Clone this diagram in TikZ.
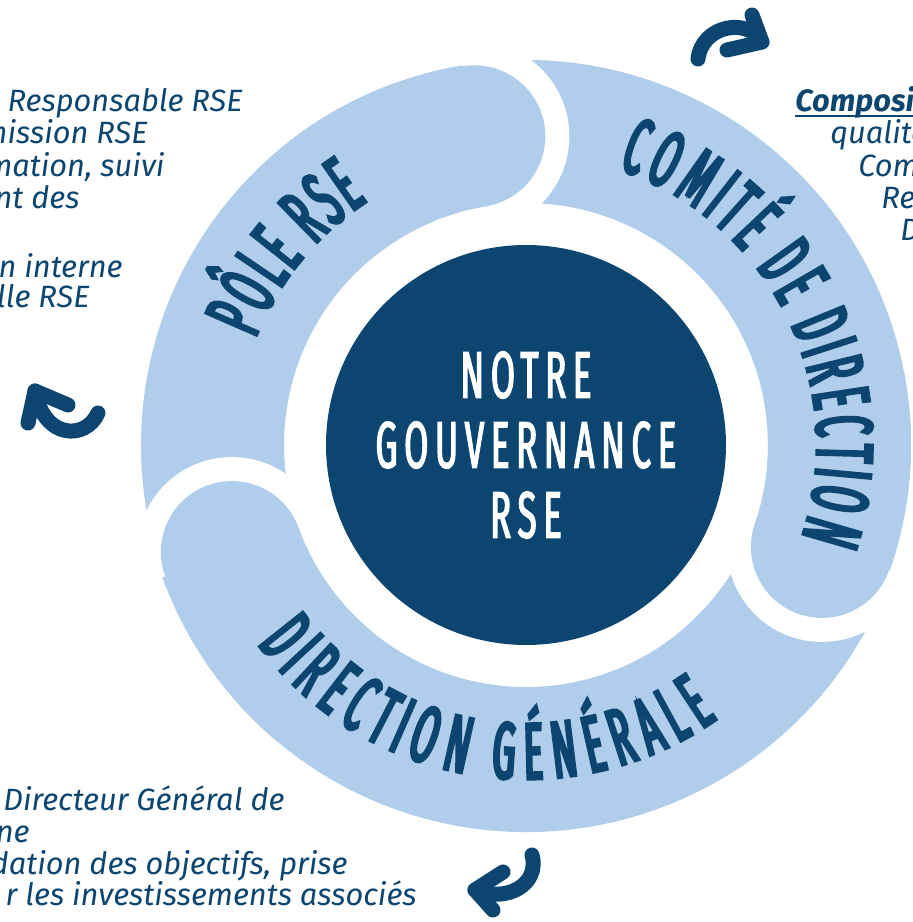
\documentclass[tikz,border=0pt]{standalone}
\usepackage{fontspec}
\setmainfont{Fira Sans}
\newfontfamily\ringfont[FakeStretch=0.45,FakeBold=4]{Fira Sans}
\newfontfamily\hubfont[FakeStretch=0.53,FakeBold=2,LetterSpace=10]{Fira Sans}
\usepackage{xcolor}
\definecolor{navy}{HTML}{0B4570}
\definecolor{ringblue}{HTML}{B0CEEB}
\usepackage{tikz}
\usetikzlibrary{decorations.text}
\newcommand{\ringstyle}{\ringfont\fontsize{40}{40}\selectfont}
\tikzstyle{segment} = [fill=ringblue]
\tikzstyle{gap} = [fill=white]
\tikzstyle{hub} = [circle, fill=navy, minimum size=200pt, inner sep=0pt,
    text=white, align=center, font=\hubfont\fontsize{33}{35}\selectfont]
\tikzstyle{info} = [text=navy, inner sep=0pt, font=\fontsize{15.4}{16}\selectfont\itshape]
\tikzstyle{curl} = [draw=navy, line width=7.5pt, line cap=round, line join=round]
\tikzstyle{ringlabel} = [decorate]

\begin{document}
\begin{tikzpicture}[x=0.5pt,y=0.5pt]
    \useasboundingbox (-526,-477) rectangle (386,445);

    % Ring segments
    \fill[segment] (200:385) arc[start angle=200, end angle=99.5, radius=385] -- (99.5:242) arc[start angle=99.5, end angle=200, radius=242] -- cycle;
    \fill[segment] (99.5:385) arc[start angle=99.5, end angle=-19, radius=385] -- (-19:242) arc[start angle=-19, end angle=99.5, radius=242] -- cycle;
    \fill[segment] (-19:387) arc[start angle=-19, end angle=-160, radius=387] -- (-160:242) arc[start angle=-160, end angle=-19, radius=242] -- cycle;

    % Heads, cut out of the next tail
    \fill[gap] (99.5:313) circle[radius=95];
    \fill[segment] (130:385) arc[start angle=130, end angle=99.5, radius=385] -- (99.5:242) arc[start angle=99.5, end angle=130, radius=242] -- cycle;
    \fill[segment] (99.5:313) circle[radius=71];
    \fill[gap] (-19:313) circle[radius=95];
    \fill[segment] (11:385) arc[start angle=11, end angle=-19, radius=385] -- (-19:242) arc[start angle=-19, end angle=11, radius=242] -- cycle;
    \fill[segment] (-19:313) circle[radius=71];
    \fill[gap] (200:313) circle[radius=95];
    \fill[segment] (230:387) arc[start angle=230, end angle=200, radius=387] -- (200:242) arc[start angle=200, end angle=230, radius=242] -- cycle;
    \fill[segment] (200:313) circle[radius=71];

    % Ring labels
    \path[ringlabel, decoration={text effects along path, text={PÔLE RSE},
        text effects/.cd, text along path, fit text to path,
        characters={anchor=base, inner sep=0pt, text=navy, font=\ringstyle}}]
        (158.5:291) arc[start angle=158.5, end angle=123, radius=291];
    \path[ringlabel, decoration={text effects along path, text={COMITÉ DE DIRECTION},
        text effects/.cd, text along path, fit text to path,
        characters={anchor=base, inner sep=0pt, text=navy, font=\ringstyle}}]
        (71.5:291) arc[start angle=71.5, end angle=-18.5, radius=291];
    \path[ringlabel, decoration={text effects along path, text={DIRECTION GÉNÉRALE},
        text effects/.cd, text along path, fit text to path,
        characters={anchor=base, inner sep=0pt, text=navy, font=\ringstyle}}]
        (216.5:334) arc[start angle=216.5, end angle=305, radius=334];

    % Place nodes
    \node[hub] (core) at (0,0) {NOTRE\\GOUVERNANCE\\RSE};

    \node[info, anchor=base east] (pole1) at (-283,333) {Responsable RSE};
    \node[info, anchor=base east] (pole2) at (-378,301) {mission RSE};
    \node[info, anchor=base east] (pole3) at (-361,269) {mation, suivi};
    \node[info, anchor=base east] (pole4) at (-446,237) {nt des};
    \node[info, anchor=base east] (pole5) at (-403,168) {n interne};
    \node[info, anchor=base east] (pole6) at (-436,138) {lle RSE};

    \node[info, anchor=base west, font=\fontsize{15.4}{16}\selectfont\bfseries\itshape] (comite1) at (269,333) {Composi};
    \node[info, anchor=base west] (comite2) at (304,301) {qualite};
    \node[info, anchor=base west] (comite3) at (332,269) {Com};
    \node[info, anchor=base west] (comite4) at (355,237) {Re};
    \node[info, anchor=base west] (comite5) at (374,205) {D};
    \draw[navy, line width=1pt] ([yshift=-2.2pt]comite1.base west) -- ([yshift=-2.2pt]comite1.base east);

    \node[info, anchor=base east] (dg1) at (-241,-365) {Directeur Général de};
    \node[info, anchor=base east] (dg2) at (-496,-397) {ne};
    \node[info, anchor=base east] (dg3) at (-178,-429) {dation des objectifs, prise};
    \node[info, anchor=base east] (dg4) at (-109,-460) {r les investissements associés};

    % Curved arrows
    \coordinate (up0) at (172,386);
    \coordinate (up1) at (236,403);
    \draw[curl] (up0) .. controls (176,420) and (222,428) .. (up1);
    \draw[curl] (226,430) -- (up1) -- (201,395);
    \coordinate (left0) at (-428,32);
    \coordinate (left1) at (-491,54);
    \draw[curl] (left0) .. controls (-440,5) and (-482,5) .. (left1);
    \draw[curl] (-458,40) -- (left1) -- (-498,22);
    \coordinate (down0) at (6,-410);
    \coordinate (down1) at (-51,-445);
    \draw[curl] (down0) .. controls (14,-440) and (-20,-458) .. (down1);
    \draw[curl] (-23,-427) -- (down1) -- (-33,-465);
\end{tikzpicture}
\end{document}
